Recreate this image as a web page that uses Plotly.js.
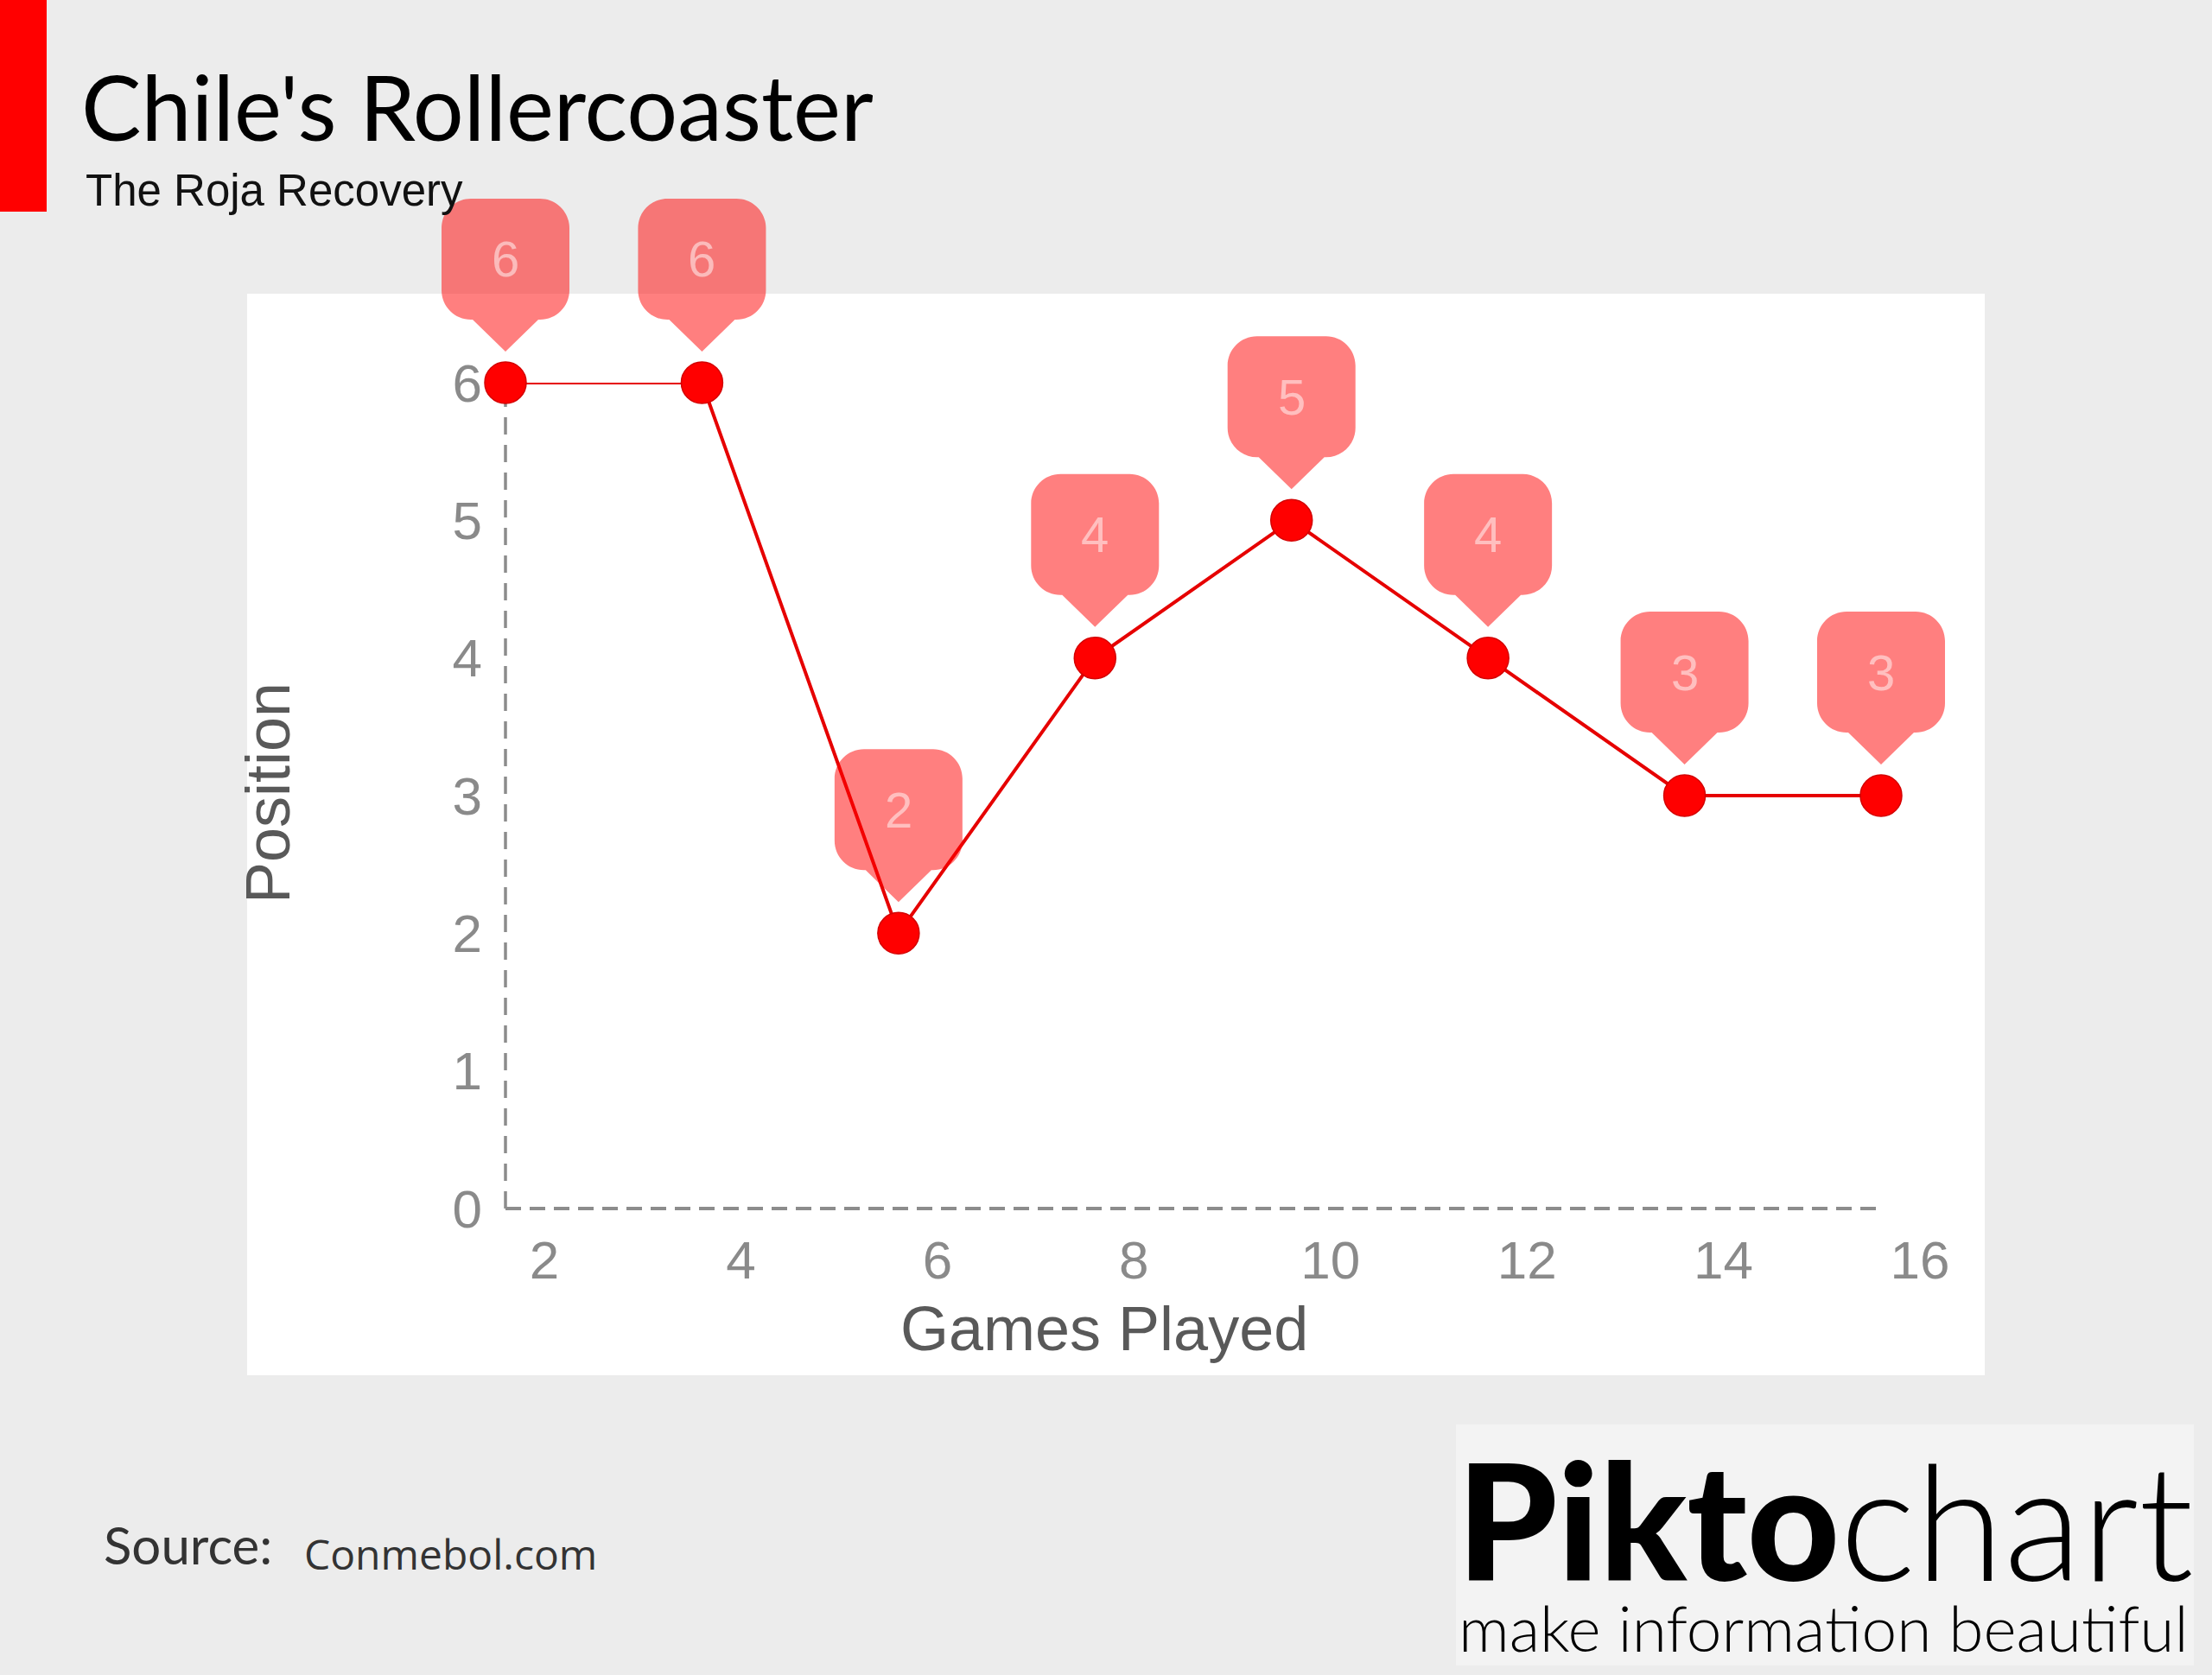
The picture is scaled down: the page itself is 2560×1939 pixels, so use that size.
<!DOCTYPE html>
<html><head><meta charset="utf-8">
<script src="https://cdn.plot.ly/plotly-3.0.1.min.js"></script>
<style>html,body{margin:0;padding:0;background:#ececec;overflow:hidden;}</style>
</head><body><div id="chart" style="width:2560px;height:1939px;"></div>
<script>
// ---- data ----
const games = [2, 4, 6, 8, 10, 12, 14, 16];
const positions = [6, 6, 2, 4, 5, 4, 3, 3];
const xTickVals = [2, 4, 6, 8, 10, 12, 14, 16];
const yTickVals = [0, 1, 2, 3, 4, 5, 6];
const xRange = [2, 16];
const yRange = [0, 6];
const titleText = "Chile's Rollercoaster";
const subtitleText = "The Roja Recovery";
const xTitleText = "Games Played";
const yTitleText = "Position";
const sourceLabel = "Source:";
const sourceText = "Conmebol.com";
const brandBold = "Pikto";
const brandLight = "chart";
const brandTagline = "make information beautiful";

// ---- layout geometry (figure pixels) ----
const W = 2560, H = 1939;
const PL = 585, PR = 2177, PT = 443, PB = 1399;   // plot area box
const px = x => x / W;
const py = y => 1 - y / H;

// an invisible full-figure axis pair with the same data scale, used only so
// the callout shapes (anchored at data values) are not clipped to the plot box
const sx = (xRange[1] - xRange[0]) / (PR - PL);
const sy = (yRange[1] - yRange[0]) / (PB - PT);
const x2Range = [xRange[0] - PL * sx, xRange[0] + (W - PL) * sx];
const y2Range = [yRange[0] - (H - PB) * sy, yRange[0] + PB * sy];

const AX_FONT = 'Liberation Sans, Arial, sans-serif';

// callout bubble outline in pixels around its anchor (y up)
function bubblePath() {
  const hw = 74, top = 213, bot = 73, r = 34, k = 0.552 * r, tw = 38, tip = 36;
  return [
    'M', -hw + r, top, 'L', hw - r, top,
    'C', hw - r + k, top, hw, top - r + k, hw, top - r,
    'L', hw, bot + r,
    'C', hw, bot + r - k, hw - r + k, bot, hw - r, bot,
    'L', tw, bot, 'L', 0, tip, 'L', -tw, bot, 'L', -hw + r, bot,
    'C', -hw + r - k, bot, -hw, bot + r - k, -hw, bot + r,
    'L', -hw, top - r,
    'C', -hw, top - r + k, -hw + r - k, top, -hw + r, top, 'Z'
  ].join(' ').replace(/ (-?\d+(\.\d+)?) (-?\d+(\.\d+)?)/g, ' $1,$3');
}
const BUBBLE = bubblePath();

const traces = [
  {x: games, y: positions, type: 'scatter', mode: 'lines+markers',
   line: {color: '#e60000', width: 4},
   marker: {color: '#ff0000', size: 48, line: {color: '#d40000', width: 1.5}},
   cliponaxis: false, hoverinfo: 'skip', showlegend: false},
  {x: [], y: [], xaxis: 'x2', yaxis: 'y2', type: 'scatter', mode: 'markers',
   hoverinfo: 'skip', showlegend: false}
];

const bubbleShapes = games.map((g, i) => ({
  type: 'path', xref: 'x2', yref: 'y2', xsizemode: 'pixel', ysizemode: 'pixel',
  xanchor: g, yanchor: positions[i], path: BUBBLE,
  fillcolor: 'rgba(255,0,0,0.5)', line: {width: 0}, layer: 'above'
}));

const bubbleLabels = games.map((g, i) => ({
  x: g, y: positions[i], xref: 'x', yref: 'y', yshift: 143, showarrow: false,
  text: String(positions[i]), xanchor: 'center', yanchor: 'middle',
  font: {family: AX_FONT, size: 58, color: 'rgba(255,255,255,0.5)'}
}));

const textAnns = [
  {text: subtitleText, x: px(97), y: py(221), xanchor: 'left', yanchor: 'middle',
   font: {family: AX_FONT, size: 51, color: '#111'}},
  {text: xTitleText, x: px(1278), y: py(1538), xanchor: 'center', yanchor: 'middle',
   font: {family: AX_FONT, size: 72, color: '#595959'}},
  {text: yTitleText, x: px(310), y: py(918), xanchor: 'center', yanchor: 'middle', textangle: -90,
   font: {family: AX_FONT, size: 72, color: '#595959'}},
  {text: sourceLabel, x: px(118), y: py(1788), xanchor: 'left', yanchor: 'middle',
   font: {family: 'Lato', size: 60, color: '#333'}},
  {text: sourceText, x: px(350), y: py(1798), xanchor: 'left', yanchor: 'middle',
   font: {family: 'Open Sans', size: 48, color: '#333'}},
  {text: '<span style="font-weight:900">' + brandBold + '</span><span style="font-weight:300">' + brandLight + '</span>',
   x: px(1684), y: py(1758), xanchor: 'left', yanchor: 'middle',
   font: {family: 'Lato', size: 186, color: '#000'}},
  {text: '<span style="font-weight:300">' + brandTagline + '</span>',
   x: px(1686), y: py(1884), xanchor: 'left', yanchor: 'middle',
   font: {family: 'Lato', size: 73, color: '#000'}}
].map(a => Object.assign({xref: 'paper', yref: 'paper', showarrow: false}, a));

const shapes = [
  // white panel
  {type: 'rect', xref: 'paper', yref: 'paper', x0: px(286), x1: px(2297), y0: py(1592), y1: py(340),
   fillcolor: '#ffffff', line: {width: 0}, layer: 'below'},
  // red accent bar
  {type: 'rect', xref: 'paper', yref: 'paper', x0: px(0), x1: px(54), y0: py(245), y1: py(0),
   fillcolor: '#ff0000', line: {width: 0}, layer: 'below'},
  // logo box
  {type: 'rect', xref: 'paper', yref: 'paper', x0: px(1685), x1: px(2539), y0: py(1928), y1: py(1649),
   fillcolor: '#f3f3f3', line: {width: 0}, layer: 'below'},
  // dashed axes
  {type: 'line', xref: 'x domain', yref: 'y domain', x0: 0, x1: 0, y0: 0, y1: 1,
   line: {color: '#8c8c8c', width: 3.5, dash: '20px,12px'}, layer: 'below'},
  {type: 'line', xref: 'x domain', yref: 'y domain', x0: 0, x1: 1, y0: 0, y1: 0,
   line: {color: '#8c8c8c', width: 4, dash: '18px,10px'}, layer: 'below'}
].concat(bubbleShapes);

const layout = {
  width: W, height: H,
  paper_bgcolor: '#ececec', plot_bgcolor: 'rgba(0,0,0,0)',
  margin: {l: 0, r: 0, t: 0, b: 0, pad: 0},
  title: {text: titleText, x: 94 / W, xanchor: 'left', xref: 'container',
          y: 1 - 127 / H, yanchor: 'middle', yref: 'container',
          font: {family: 'Lato', size: 104, color: '#000'}},
  xaxis: {domain: [PL / W, PR / W], anchor: 'y', range: xRange,
          tickvals: xTickVals, ticktext: xTickVals.map(String),
          showgrid: false, zeroline: false, showline: false, ticks: '',
          ticklabelshift: 45, ticklabelstandoff: 18, automargin: false,
          tickfont: {family: AX_FONT, size: 62, color: '#8a8a8a'}, fixedrange: true},
  yaxis: {domain: [1 - PB / H, 1 - PT / H], anchor: 'x', range: yRange,
          tickvals: yTickVals, ticktext: yTickVals.map(String),
          showgrid: false, zeroline: false, showline: false, ticks: '',
          ticklabelstandoff: 26, automargin: false,
          tickfont: {family: AX_FONT, size: 62, color: '#8a8a8a'}, fixedrange: true},
  xaxis2: {domain: [0, 1], anchor: 'y2', range: x2Range, visible: false, fixedrange: true},
  yaxis2: {domain: [0, 1], anchor: 'x2', range: y2Range, visible: false, fixedrange: true},
  shapes: shapes,
  annotations: textAnns.concat(bubbleLabels),
  showlegend: false
};

Plotly.newPlot('chart', traces, layout, {staticPlot: true, displayModeBar: false});
</script>
</body></html>
